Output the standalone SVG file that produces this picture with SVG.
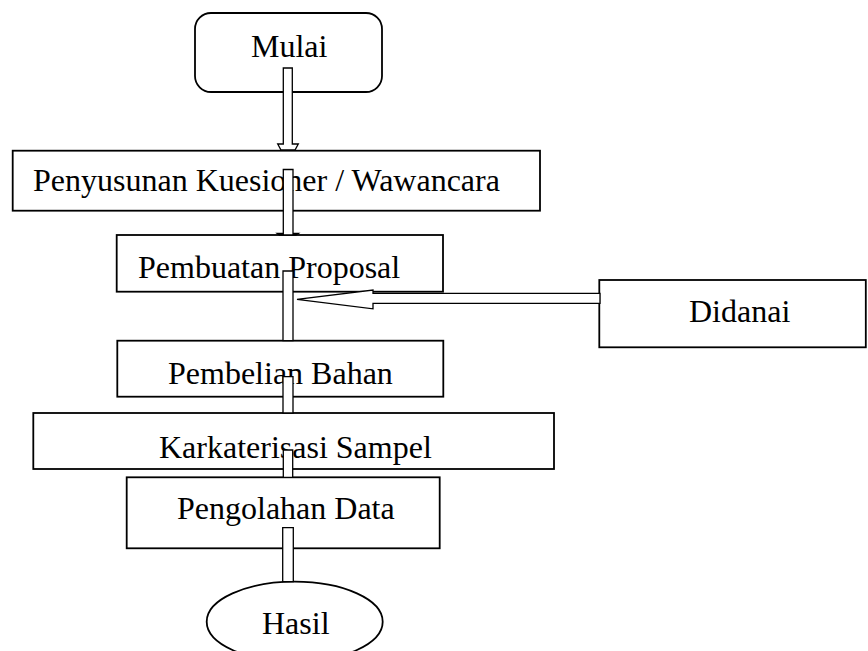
<svg xmlns="http://www.w3.org/2000/svg" width="868" height="651" viewBox="0 0 868 651">
<style>
.box{fill:#fff;stroke:#000;stroke-width:1.8}
.arr{fill:#fff;stroke:#000;stroke-width:1.3;stroke-linejoin:miter}
.t{font-family:"Liberation Serif","Times New Roman",serif;font-size:32px;fill:#000}
</style>
<rect width="868" height="651" fill="#fff"/>
<g id="node-mulai"><rect class="box" x="195" y="13" width="187" height="79" rx="16"/><text class="t" x="251" y="57">Mulai</text></g>
<g id="node-penyusunan"><rect class="box" x="12.7" y="150.7" width="527.3" height="60"/><text class="t" x="33" y="191">Penyusunan Kuesioner / Wawancara</text></g>
<g id="node-pembuatan"><rect class="box" x="116.7" y="235" width="326.3" height="56.7"/><text class="t" x="138" y="278">Pembuatan Proposal</text></g>
<g id="node-didanai"><rect class="box" x="599.3" y="280" width="266.5" height="67.3"/><text class="t" x="689" y="322">Didanai</text></g>
<g id="node-pembelian"><rect class="box" x="117.3" y="340.7" width="326" height="56"/><text class="t" x="168" y="384">Pembelian Bahan</text></g>
<g id="node-karkaterisasi"><rect class="box" x="33.3" y="413" width="520.7" height="56"/><text class="t" x="159" y="458">Karkaterisasi Sampel</text></g>
<g id="node-pengolahan"><rect class="box" x="126.7" y="477.3" width="313" height="71"/><text class="t" x="177" y="519">Pengolahan Data</text></g>
<g id="node-hasil"><ellipse class="box" cx="294.7" cy="621.7" rx="88" ry="40"/><text class="t" x="262" y="634">Hasil</text></g>
<g id="connectors">
<polygon class="arr" points="283.3,68 292.3,68 292.3,144 298.3,144 295,150 281,150 277.7,144 283.3,144"/>
<polygon class="arr" points="283.3,169.5 293,169.5 293,233.5 298.3,233.5 296,235 279.5,235 277.3,233.5 283.3,233.5"/>
<polygon class="arr" points="283,271 293,271 293,340.7 283,340.7"/>
<polygon class="arr" points="600,293.3 373,293.3 373,290 297,299.3 373,308.8 373,303.3 600,303.3"/>
<polygon class="arr" points="283,376.7 293,376.7 293,413 283,413"/>
<polygon class="arr" points="283.3,450 292.7,450 292.7,477.3 283.3,477.3"/>
<polygon class="arr" points="282.7,527.7 293.3,527.7 293.3,581.7 282.7,581.7"/>
</g>
</svg>
